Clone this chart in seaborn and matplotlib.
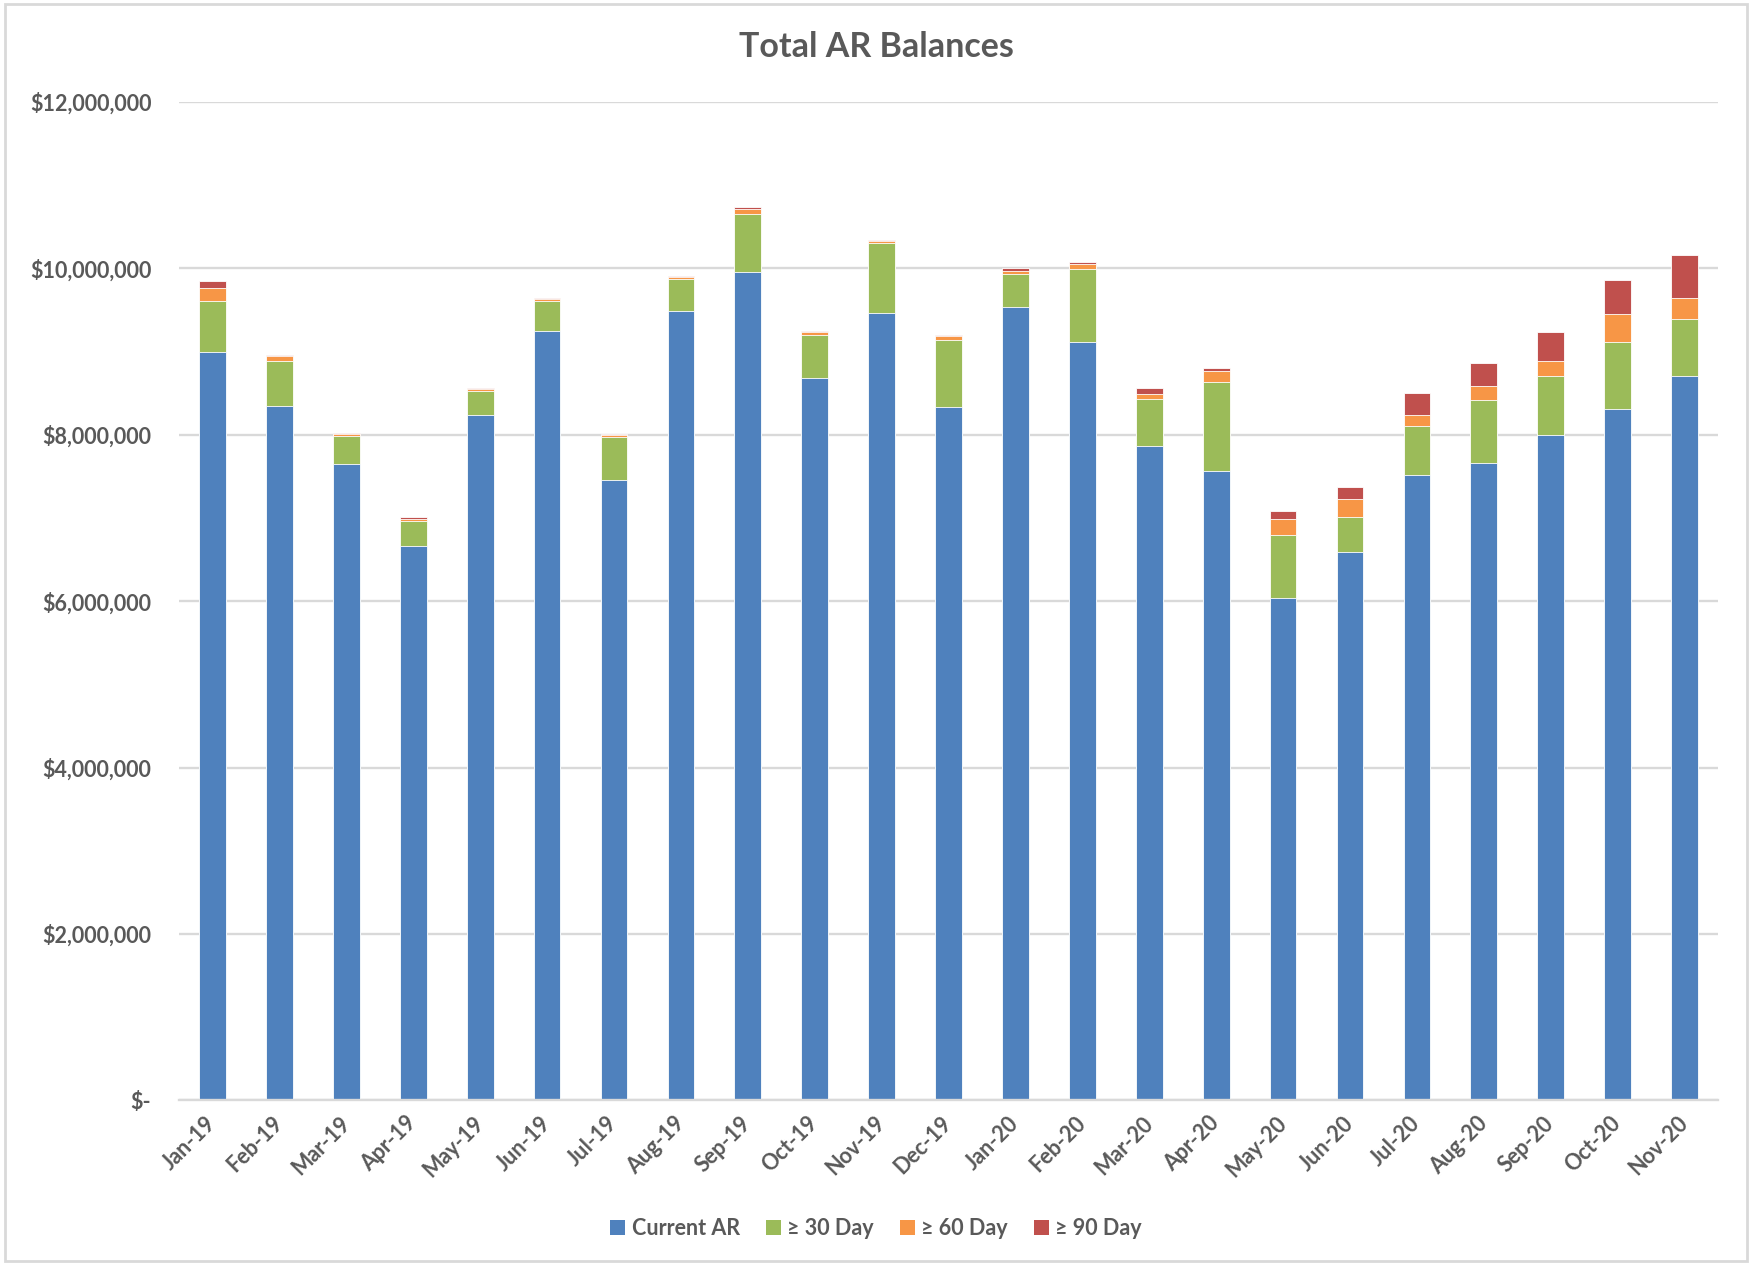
# Import Libraries

import matplotlib
matplotlib.use("Agg")
import matplotlib.pyplot as plt
import matplotlib.ticker as mticker
from matplotlib.patches import Patch, Rectangle
import pandas as pd
import seaborn as sns

# Data

months = ["Jan-19", "Feb-19", "Mar-19", "Apr-19", "May-19", "Jun-19", "Jul-19",
          "Aug-19", "Sep-19", "Oct-19", "Nov-19", "Dec-19", "Jan-20", "Feb-20",
          "Mar-20", "Apr-20", "May-20", "Jun-20", "Jul-20", "Aug-20", "Sep-20",
          "Oct-20", "Nov-20"]

current_ar = [8990000, 8340000, 7650000, 6660000, 8240000, 9250000, 7460000,
              9480000, 9960000, 8680000, 9460000, 8330000, 9530000, 9110000,
              7860000, 7560000, 6040000, 6585000, 7510000, 7660000, 7990000,
              8310000, 8700000]

day_30 = [610000, 550000, 330000, 300000, 290000, 360000, 510000,
          390000, 690000, 520000, 840000, 810000, 400000, 880000,
          570000, 1075000, 760000, 430000, 590000, 760000, 710000,
          800000, 686000]

day_60 = [160000, 50000, 25000, 27000, 20000, 16000, 24000,
          20000, 60000, 30000, 30000, 45000, 36000, 64000,
          57000, 130000, 185000, 210000, 140000, 165000, 190000,
          340000, 253000]

day_90 = [90000, 20000, 15000, 20000, 16000, 12000, 12000,
          16000, 20000, 16000, 12000, 12000, 36000, 20000,
          68000, 30000, 96000, 150000, 260000, 270000, 345000,
          410000, 525000]

series_names = ["Current AR", "\u2265 30 Day", "\u2265 60 Day", "\u2265 90 Day"]
colors = ["#4F81BD", "#9BBB59", "#F79646", "#C0504D"]

df = pd.DataFrame({"Month": months, "Current AR": current_ar,
                   "30": day_30, "60": day_60, "90": day_90})

# running totals for the stacked look (drawn back to front)
df["lvl1"] = df["Current AR"]
df["lvl2"] = df["lvl1"] + df["30"]
df["lvl3"] = df["lvl2"] + df["60"]
df["lvl4"] = df["lvl3"] + df["90"]

# Style

sns.set_style("white")
plt.rcParams["font.family"] = ["Lato", "DejaVu Sans"]
plt.rcParams["font.weight"] = "bold"
text_color = "#595959"
grid_color = "#D9D9D9"

fig = plt.figure(figsize=(17.52, 12.64), dpi=100)
ax = fig.add_axes([0.1022, 0.1294, 0.8784, 0.7901])

# Stacked bars

for lvl, col in zip(["lvl4", "lvl3", "lvl2", "lvl1"], colors[::-1]):
    sns.barplot(data=df, x="Month", y=lvl, order=months, color=col,
                saturation=1, width=0.4, edgecolor="white", linewidth=0.6,
                errorbar=None, ax=ax)

# Axes

ax.set_ylim(0, 12000000)
ax.set_xlim(-0.5, len(months) - 0.5)
ax.yaxis.set_major_locator(mticker.MultipleLocator(2000000))
ax.yaxis.set_major_formatter(mticker.FuncFormatter(
    lambda v, p: "$-" if v == 0 else "${:,.0f}".format(v)))
ax.yaxis.grid(True, color=grid_color, linewidth=1.7)
ax.set_axisbelow(True)

for s in ["top", "right", "left"]:
    ax.spines[s].set_visible(False)
ax.spines["bottom"].set_color(grid_color)
ax.spines["bottom"].set_linewidth(1.7)

ax.set_xlabel("")
ax.set_ylabel("")
ax.tick_params(axis="y", length=0, pad=20, labelsize=15.5, labelcolor=text_color)
ax.tick_params(axis="x", which="major", length=0, pad=14, labelsize=15.5,
               labelcolor=text_color)
ax.set_xticks(range(len(months)))
ax.set_xticklabels(months, rotation=45, ha="right", va="center",
                   rotation_mode="anchor", fontweight="bold")
ax.set_xticks([i - 0.5 for i in range(len(months) + 1)], minor=True)
ax.tick_params(axis="x", which="minor", length=7, width=1.6, color=grid_color)

# Title and legend

fig.text(0.5, 0.963, "Total AR Balances", ha="center", va="center",
         fontsize=24.5, fontweight="bold", color=text_color)

handles = [Patch(facecolor=c, edgecolor="none") for c in colors]
fig.legend(handles, series_names, loc="center", bbox_to_anchor=(0.5, 0.028),
           ncol=4, frameon=False, handlelength=0.7, handleheight=0.7,
           handletextpad=0.3, columnspacing=1.2,
           prop={"size": 15.5, "weight": "bold"}, labelcolor=text_color)

# chart border
fig.patches.append(Rectangle((0.003, 0.002), 0.994, 0.995, transform=fig.transFigure,
                             fill=False, edgecolor=grid_color, linewidth=2))

plt.savefig("out.png", dpi=100)
